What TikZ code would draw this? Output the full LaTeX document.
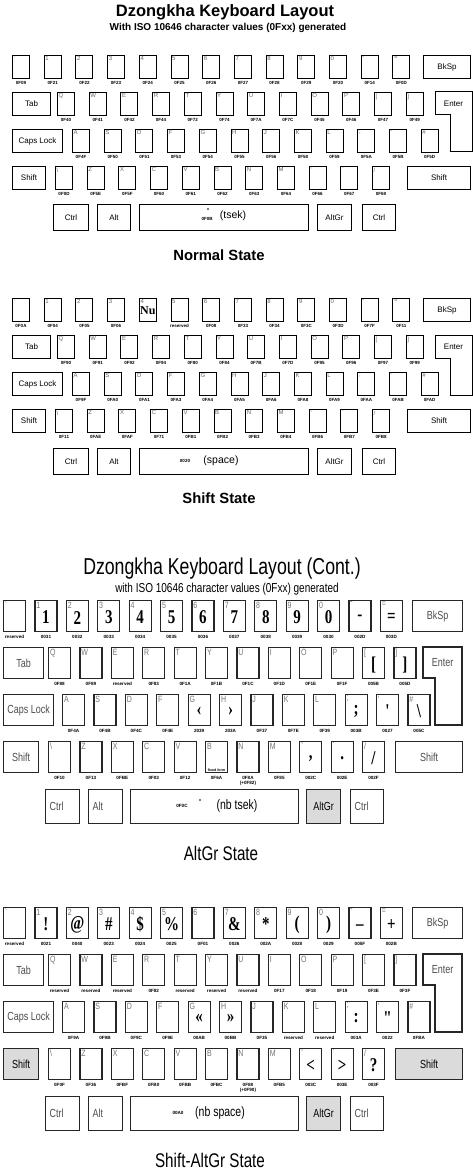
\documentclass[tikz,border=0pt]{standalone}
\usepackage{fontspec}
\usepackage{graphicx}
\setmainfont{Liberation Sans}[Ligatures=TeXOff]
\newfontfamily\glyphfont{Liberation Serif}[Ligatures=TeXOff]
\usetikzlibrary{positioning}
\newcommand\tall[1]{\scalebox{1}[1.3]{#1}}
\tikzset{
  keyA/.style={draw, line width=1pt, inner sep=0pt,
    anchor=north west, minimum width=17pt, minimum height=23pt},
  keyB/.style={draw=black!85, line width=1.1pt, inner sep=0pt,
    anchor=north west, minimum width=22pt, minimum height=31pt},
  wideA/.style={keyA, font=\fontsize{8}{8}\selectfont},
  wideB/.style={keyB, font=\fontsize{9}{9}\selectfont, text=black!70},
  enterA/.style={draw, line width=1pt},
  enterB/.style={draw=black!85, line width=1.1pt},
  pressed/.style={fill=black!14},
  nameA/.style={anchor=north west, inner sep=1.5pt, font=\fontsize{6}{6}\selectfont, text=black!60},
  nameB/.style={anchor=north west, inner sep=1.8pt, font=\fontsize{7}{7}\selectfont, text=black!55},
  codeA/.style={anchor=north, inner sep=0pt, font=\bfseries\fontsize{4.5}{5}\selectfont},
  codeB/.style={anchor=north, inner sep=0pt, align=center, font=\bfseries\fontsize{4.6}{5}\selectfont},
  glyphB/.style={inner sep=0pt, font=\glyphfont\bfseries\fontsize{15}{15}\selectfont},
  head/.style={inner sep=0pt, font=\bfseries\fontsize{16.5}{18}\selectfont},
  subhead/.style={inner sep=0pt, font=\bfseries\fontsize{10}{11}\selectfont},
  state/.style={inner sep=0pt, font=\bfseries\fontsize{14.8}{16}\selectfont},
  headB/.style={inner sep=0pt, font=\fontsize{17.7}{19}\selectfont},
  subheadB/.style={inner sep=0pt, font=\fontsize{10}{11}\selectfont},
  stateB/.style={inner sep=0pt, font=\fontsize{15.2}{16}\selectfont},
  spacetext/.style={inner sep=0pt, font=\fontsize{10.5}{11}\selectfont},
  tsek/.style={circle, fill, inner sep=0pt, minimum size=1.8pt},
}

\begin{document}
\begin{tikzpicture}[x=1pt, y=-1pt]
\useasboundingbox (0,0) rectangle (473,1174);

% Normal State
\node[head] (n-title) at (225,12) {Dzongkha Keyboard Layout};
\node[subhead] (n-sub) at (228,28) {With ISO 10646 character values (0Fxx) generated};

\foreach \kl/\kc [count=\i from 0] in {`/0F09,1/0F21,2/0F22,3/0F23,4/0F24,5/0F25,6/0F26,7/0F27,8/0F28,9/0F29,0/0F20,-/0F14,=/0F0D} {
  \node[keyA] (n1-\i) at ({12+31.7*\i},55) {};
  \node[nameA] (n1-\i-k) at (n1-\i.north west) {\kl};
  \node[codeA] (n1-\i-c) at ([yshift=-2.5pt]n1-\i.south) {\kc};
}
\node[wideA, minimum width=47pt] (n1-bksp) at (423,55) {BkSp};

\node[wideA, minimum width=38pt] (n2-tab) at (12,92) {Tab};
\foreach \kl/\kc [count=\i from 0] in {Q/0F40,W/0F41,E/0F42,R/0F44,T/0F72,Y/0F74,U/0F7A,I/0F7C,O/0F45,P/0F46,{[}/0F47,{]}/0F49} {
  \node[keyA] (n2-\i) at ({57+31.7*\i},92) {};
  \node[nameA] (n2-\i-k) at (n2-\i.north west) {\kl};
  \node[codeA] (n2-\i-c) at ([yshift=-2.5pt]n2-\i.south) {\kc};
}
\draw[enterA] (435,92) -- (472,92) -- (472,152) -- (450,152) -- (450,115) -- (435,115) -- cycle;
\node[font=\fontsize{8}{8}\selectfont] (n2-enter) at (453.5,103.5) {Enter};

\node[wideA, minimum width=50pt] (n3-caps) at (12,129) {Caps Lock};
\foreach \kl/\kc [count=\i from 0] in {A/0F4F,S/0F50,D/0F51,F/0F53,G/0F54,H/0F55,J/0F56,K/0F58,L/0F59,;/0F5A,'/0F5B,\#/0F5D} {
  \node[keyA] (n3-\i) at ({72+31.7*\i},129) {};
  \node[nameA] (n3-\i-k) at (n3-\i.north west) {\kl};
  \node[codeA] (n3-\i-c) at ([yshift=-2.5pt]n3-\i.south) {\kc};
}

\node[wideA, minimum width=33pt] (n4-lshift) at (12,166) {Shift};
\foreach \kl/\kc [count=\i from 0] in {\textbackslash/0F0D,Z/0F5E,X/0F5F,C/0F60,V/0F61,B/0F62,N/0F63,M/0F64,{,}/0F66,./0F67,{/}/0F68} {
  \node[keyA] (n4-\i) at ({55+31.7*\i},166) {};
  \node[nameA] (n4-\i-k) at (n4-\i.north west) {\kl};
  \node[codeA] (n4-\i-c) at ([yshift=-2.5pt]n4-\i.south) {\kc};
}
\node[wideA, minimum width=63pt] (n4-rshift) at (407,166) {Shift};

\node[wideA, minimum width=35pt, minimum height=26pt] (n5-lctrl) at (53,204) {Ctrl};
\node[wideA, minimum width=33pt, minimum height=26pt] (n5-alt) at (97,204) {Alt};
\node[wideA, minimum width=169pt, minimum height=26pt] (n5-space) at (139,204) {};
\node[wideA, minimum width=34pt, minimum height=26pt] (n5-altgr) at (317,204) {AltGr};
\node[wideA, minimum width=33pt, minimum height=26pt] (n5-rctrl) at (362,204) {Ctrl};
\node[tsek] (n5-dot) at (208,209) {};
\node[codeA, anchor=center] (n5-code) at (207,219) {0F0B};
\node[spacetext] (n5-text) at (233,216) {(tsek)};

\node[state] (n-state) at (219,255) {Normal State};

% Shift State
\foreach \kl/\kc [count=\i from 0] in {`/0F0A,1/0F04,2/0F05,3/0F06,4/{},5/reserved,6/0F08,7/0F33,8/0F34,9/0F3C,0/0F3D,-/0F7F,=/0F11} {
  \node[keyA] (s1-\i) at ({12+31.7*\i},298) {};
  \node[nameA] (s1-\i-k) at (s1-\i.north west) {\kl};
  \node[codeA] (s1-\i-c) at ([yshift=-2.5pt]s1-\i.south) {\kc};
}
\node[glyphB, font=\glyphfont\bfseries\fontsize{12}{12}\selectfont] (s1-nu) at ([yshift=-1pt]s1-4.center) {Nu};
\node[wideA, minimum width=47pt] (s1-bksp) at (423,298) {BkSp};

\node[wideA, minimum width=38pt] (s2-tab) at (12,335) {Tab};
\foreach \kl/\kc [count=\i from 0] in {Q/0F90,W/0F91,E/0F92,R/0F94,T/0F80,Y/0F84,U/0F7B,I/0F7D,O/0F95,P/0F96,{[}/0F97,{]}/0F99} {
  \node[keyA] (s2-\i) at ({57+31.7*\i},335) {};
  \node[nameA] (s2-\i-k) at (s2-\i.north west) {\kl};
  \node[codeA] (s2-\i-c) at ([yshift=-2.5pt]s2-\i.south) {\kc};
}
\draw[enterA] (435,335) -- (472,335) -- (472,395) -- (450,395) -- (450,358) -- (435,358) -- cycle;
\node[font=\fontsize{8}{8}\selectfont] (s2-enter) at (453.5,346.5) {Enter};

\node[wideA, minimum width=50pt] (s3-caps) at (12,372) {Caps Lock};
\foreach \kl/\kc [count=\i from 0] in {A/0F9F,S/0FA0,D/0FA1,F/0FA3,G/0FA4,H/0FA5,J/0FA6,K/0FA8,L/0FA9,;/0FAA,'/0FAB,\#/0FAD} {
  \node[keyA] (s3-\i) at ({72+31.7*\i},372) {};
  \node[nameA] (s3-\i-k) at (s3-\i.north west) {\kl};
  \node[codeA] (s3-\i-c) at ([yshift=-2.5pt]s3-\i.south) {\kc};
}

\node[wideA, minimum width=33pt] (s4-lshift) at (12,409) {Shift};
\foreach \kl/\kc [count=\i from 0] in {\textbackslash/0F11,Z/0FAE,X/0FAF,C/0F71,V/0FB1,B/0FB2,N/0FB3,M/0FB4,{,}/0FB6,./0FB7,{/}/0FB8} {
  \node[keyA] (s4-\i) at ({55+31.7*\i},409) {};
  \node[nameA] (s4-\i-k) at (s4-\i.north west) {\kl};
  \node[codeA] (s4-\i-c) at ([yshift=-2.5pt]s4-\i.south) {\kc};
}
\node[wideA, minimum width=63pt] (s4-rshift) at (407,409) {Shift};

\node[wideA, minimum width=35pt, minimum height=26pt] (s5-lctrl) at (53,448) {Ctrl};
\node[wideA, minimum width=33pt, minimum height=26pt] (s5-alt) at (97,448) {Alt};
\node[wideA, minimum width=169pt, minimum height=26pt] (s5-space) at (139,448) {};
\node[wideA, minimum width=34pt, minimum height=26pt] (s5-altgr) at (317,448) {AltGr};
\node[wideA, minimum width=33pt, minimum height=26pt] (s5-rctrl) at (362,448) {Ctrl};
\node[codeA, anchor=center] (s5-code) at (185,461) {0020};
\node[spacetext] (s5-text) at (221,461) {(space)};

\node[state] (s-state) at (219,498) {Shift State};

% AltGr State
\node[headB] (a-title) at (222,569) {\tall{Dzongkha Keyboard Layout (Cont.)}};
\node[subheadB] (a-sub) at (227,589) {\tall{with ISO 10646 character values (0Fxx) generated}};

\foreach \kl/\kc/\kg [count=\i from 0] in {`/reserved/{},1/0031/1,2/0032/2,3/0033/3,4/0034/4,5/0035/5,6/0036/6,7/0037/7,8/0038/8,9/0039/9,0/0030/0,-/002D/-,=/003D/=} {
  \node[keyB] (a1-\i) at ({3+31.4*\i},600) {};
  \node[nameB] (a1-\i-k) at (a1-\i.north west) {\tall{\kl}};
  \node[glyphB] (a1-\i-g) at ([yshift=-1.5pt]a1-\i.center) {\tall{\kg}};
  \node[codeB] (a1-\i-c) at ([yshift=-3pt]a1-\i.south) {\kc};
}
\node[wideB, minimum width=50pt] (a1-bksp) at (412,600) {\tall{BkSp}};

\node[wideB, minimum width=40pt] (a2-tab) at (3,647) {\tall{Tab}};
\foreach \kl/\kc/\kg [count=\i from 0] in {Q/0F88/{},W/0F89/{},E/reserved/{},R/0F83/{},T/0F1A/{},Y/0F1B/{},U/0F1C/{},I/0F1D/{},O/0F1E/{},P/0F1F/{},{[}/005B/{[},{]}/005D/{]}} {
  \node[keyB] (a2-\i) at ({48+31.4*\i},647) {};
  \node[nameB] (a2-\i-k) at (a2-\i.north west) {\tall{\kl}};
  \node[glyphB] (a2-\i-g) at ([yshift=-1.5pt]a2-\i.center) {\tall{\kg}};
  \node[codeB] (a2-\i-c) at ([yshift=-3pt]a2-\i.south) {\kc};
}
\draw[enterB] (423,647) -- (462,647) -- (462,725) -- (435,725) -- (435,678) -- (423,678) -- cycle;
\node[font=\fontsize{9}{9}\selectfont, text=black!70] (a2-enter) at (442.5,662.5) {\tall{Enter}};

\node[wideB, minimum width=50pt] (a3-caps) at (3,694) {\tall{Caps Lock}};
\foreach \kl/\kc/\kg [count=\i from 0] in {A/0F4A/{},S/0F4B/{},D/0F4C/{},F/0F4E/{},G/2039/‹,H/203A/›,J/0F37/{},K/0F7E/{},L/0F39/{},;/003B/;,'/0027/',\#/005C/\textbackslash} {
  \node[keyB] (a3-\i) at ({62+31.4*\i},694) {};
  \node[nameB] (a3-\i-k) at (a3-\i.north west) {\tall{\kl}};
  \node[glyphB] (a3-\i-g) at ([yshift=-1.5pt]a3-\i.center) {\tall{\kg}};
  \node[codeB] (a3-\i-c) at ([yshift=-3pt]a3-\i.south) {\kc};
}

\node[wideB, minimum width=35pt] (a4-lshift) at (3,741) {\tall{Shift}};
\foreach \kl/\kc/\kg [count=\i from 0] in {\textbackslash/0F10/{},Z/0F13/{},X/0FBE/{},C/0F03/{},V/0F12/{},B/0F6A/{},N/{0F8A\\(+0F82)}/{},M/0F85/{},{,}/002C/{,},./002E/.,{/}/002F/{/}} {
  \node[keyB] (a4-\i) at ({48+31.4*\i},741) {};
  \node[nameB] (a4-\i-k) at (a4-\i.north west) {\tall{\kl}};
  \node[glyphB] (a4-\i-g) at ([yshift=-1.5pt]a4-\i.center) {\tall{\kg}};
  \node[codeB] (a4-\i-c) at ([yshift=-3pt]a4-\i.south) {\kc};
}
\node[anchor=south, inner sep=1pt, font=\bfseries\fontsize{3.6}{4}\selectfont] (a4-5-ff) at (a4-5.south) {fixed form};
\node[wideB, minimum width=67pt] (a4-rshift) at (395,741) {\tall{Shift}};

\node[wideB, minimum width=34pt, minimum height=34pt, text width=26pt, align=left] (a5-lctrl) at (45,789) {\tall{Ctrl}};
\node[wideB, minimum width=34pt, minimum height=34pt, text width=26pt, align=left] (a5-alt) at (88,789) {\tall{Alt}};
\node[wideB, minimum width=168pt, minimum height=34pt] (a5-space) at (130,789) {};
\node[wideB, pressed, minimum width=34pt, minimum height=34pt, text=black] (a5-altgr) at (306,789) {\tall{AltGr}};
\node[wideB, minimum width=33pt, minimum height=34pt, text width=25pt, align=left] (a5-rctrl) at (350,789) {\tall{Ctrl}};
\node[codeB, anchor=center] (a5-code) at (182,806) {0F0C};
\node[tsek] (a5-dot) at (200,800) {};
\node[spacetext] (a5-text) at (237,806) {\tall{(nb tsek)}};

\node[stateB] (a-state) at (221,853) {\tall{AltGr State}};

% Shift-AltGr State
\foreach \kl/\kc/\kg [count=\i from 0] in {`/reserved/{},1/0021/!,2/0040/@,3/0023/\#,4/0024/\$,5/0025/\%,6/0F01/{},7/0026/\&,8/002A/*,9/0028/(,0/0029/),-/005F/\_,=/002B/+} {
  \node[keyB] (b1-\i) at ({3+31.4*\i},907) {};
  \node[nameB] (b1-\i-k) at (b1-\i.north west) {\tall{\kl}};
  \node[glyphB] (b1-\i-g) at ([yshift=-1.5pt]b1-\i.center) {\tall{\kg}};
  \node[codeB] (b1-\i-c) at ([yshift=-3pt]b1-\i.south) {\kc};
}
\node[wideB, minimum width=50pt] (b1-bksp) at (412,907) {\tall{BkSp}};

\node[wideB, minimum width=40pt] (b2-tab) at (3,954) {\tall{Tab}};
\foreach \kl/\kc/\kg [count=\i from 0] in {Q/reserved/{},W/reserved/{},E/reserved/{},R/0F82/{},T/reserved/{},Y/reserved/{},U/reserved/{},I/0F17/{},O/0F18/{},P/0F19/{},{[}/0F3E/{},{]}/0F3F/{}} {
  \node[keyB] (b2-\i) at ({48+31.4*\i},954) {};
  \node[nameB] (b2-\i-k) at (b2-\i.north west) {\tall{\kl}};
  \node[glyphB] (b2-\i-g) at ([yshift=-1.5pt]b2-\i.center) {\tall{\kg}};
  \node[codeB] (b2-\i-c) at ([yshift=-3pt]b2-\i.south) {\kc};
}
\draw[enterB] (423,954) -- (462,954) -- (462,1032) -- (435,1032) -- (435,985) -- (423,985) -- cycle;
\node[font=\fontsize{9}{9}\selectfont, text=black!70] (b2-enter) at (442.5,969.5) {\tall{Enter}};

\node[wideB, minimum width=50pt] (b3-caps) at (3,1001) {\tall{Caps Lock}};
\foreach \kl/\kc/\kg [count=\i from 0] in {A/0F9A/{},S/0F9B/{},D/0F9C/{},F/0F9E/{},G/00AB/«,H/00BB/»,J/0F35/{},K/reserved/{},L/reserved/{},;/003A/:,'/0022/",\#/0FBA/{}} {
  \node[keyB] (b3-\i) at ({62+31.4*\i},1001) {};
  \node[nameB] (b3-\i-k) at (b3-\i.north west) {\tall{\kl}};
  \node[glyphB] (b3-\i-g) at ([yshift=-1.5pt]b3-\i.center) {\tall{\kg}};
  \node[codeB] (b3-\i-c) at ([yshift=-3pt]b3-\i.south) {\kc};
}

\node[wideB, pressed, minimum width=35pt, text=black] (b4-lshift) at (3,1048) {\tall{Shift}};
\foreach \kl/\kc/\kg [count=\i from 0] in {\textbackslash/0F0F/{},Z/0F36/{},X/0FBF/{},C/0FB0/{},V/0FBB/{},B/0FBC/{},N/{0F88\\(+0F90)}/{},M/0FB5/{},{,}/003C/<,./003E/>,{/}/003F/?} {
  \node[keyB] (b4-\i) at ({48+31.4*\i},1048) {};
  \node[nameB] (b4-\i-k) at (b4-\i.north west) {\tall{\kl}};
  \node[glyphB] (b4-\i-g) at ([yshift=-1.5pt]b4-\i.center) {\tall{\kg}};
  \node[codeB] (b4-\i-c) at ([yshift=-3pt]b4-\i.south) {\kc};
}
\node[wideB, pressed, minimum width=67pt, text=black] (b4-rshift) at (395,1048) {\tall{Shift}};

\node[wideB, minimum width=34pt, minimum height=34pt, text width=26pt, align=left] (b5-lctrl) at (45,1096) {\tall{Ctrl}};
\node[wideB, minimum width=34pt, minimum height=34pt, text width=26pt, align=left] (b5-alt) at (88,1096) {\tall{Alt}};
\node[wideB, minimum width=168pt, minimum height=34pt] (b5-space) at (130,1096) {};
\node[wideB, pressed, minimum width=34pt, minimum height=34pt, text=black] (b5-altgr) at (306,1096) {\tall{AltGr}};
\node[wideB, minimum width=33pt, minimum height=34pt, text width=25pt, align=left] (b5-rctrl) at (350,1096) {\tall{Ctrl}};
\node[codeB, anchor=center] (b5-code) at (178,1113) {00A0};
\node[spacetext] (b5-text) at (220,1113) {\tall{(nb space)}};

\node[stateB] (b-state) at (210,1160) {\tall{Shift-AltGr State}};

\end{tikzpicture}
\end{document}
